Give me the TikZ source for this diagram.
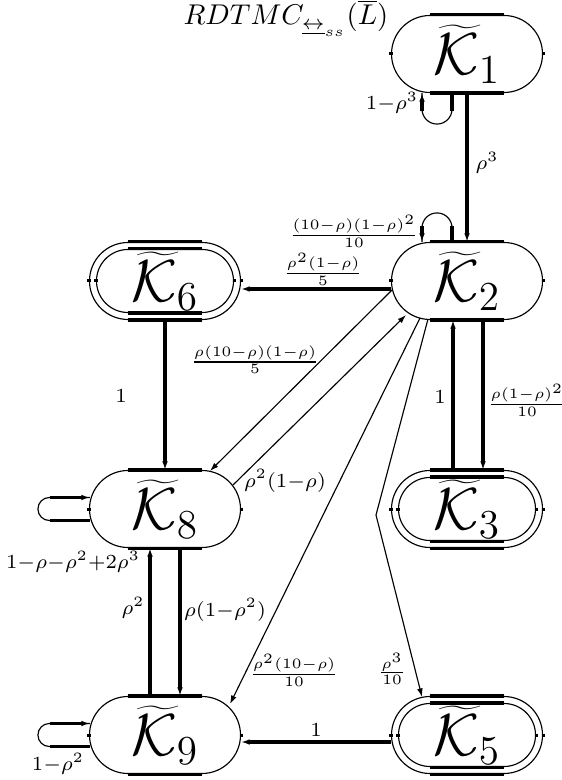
\documentclass[tikz,border=0pt]{standalone}
\usetikzlibrary{shapes.misc,arrows.meta,calc}
\newcommand\stdeco[1]{%
  \draw[thk] ($(#1.north)+(-37,0)$) -- ($(#1.north)+(37,0)$);
  \draw[thk] ($(#1.south)+(-37,0)$) -- ($(#1.south)+(37,0)$);
  \draw[thk] ($(#1.west)+(0,-1.5)$) -- ($(#1.west)+(0,1.5)$);
  \draw[thk] ($(#1.east)+(0,-1.5)$) -- ($(#1.east)+(0,1.5)$);}
\begin{document}
\begin{tikzpicture}[x=0.35pt,y=-0.35pt,
  thn/.style={line width=0.4pt},
  thk/.style={line width=1.1pt},
  tip/.style={-{Latex[length=3pt,width=2pt]}},
  st/.style={rounded rectangle, draw, line width=0.4pt, minimum width=52.85pt, minimum height=26.95pt, inner sep=0pt, font=\huge},
  sti/.style={rounded rectangle, draw, line width=0.4pt, minimum width=47.95pt, minimum height=22.05pt, inner sep=0pt},
  lab/.style={font=\scriptsize, inner sep=0pt}
]
\useasboundingbox (0,0) rectangle (561,780);

% caption
\node[inner sep=0pt, anchor=base west] (cap) at (183,25) {$RDTMC_{\underline{\leftrightarrow}_{ss}}(\overline{L})$};

% states
\node[st] (k1) at (467,54) {$\widetilde{\mathcal{K}}_1$};
\node[st] (k2) at (467,281) {$\widetilde{\mathcal{K}}_2$};
\node[st] (k6) at (165,281) {$\widetilde{\mathcal{K}}_6$};
\node[st] (k3) at (467,509) {$\widetilde{\mathcal{K}}_3$};
\node[st] (k8) at (165,509) {$\widetilde{\mathcal{K}}_8$};
\node[st] (k9) at (165,735) {$\widetilde{\mathcal{K}}_9$};
\node[st] (k5) at (467,735) {$\widetilde{\mathcal{K}}_5$};
\node[sti] (k6i) at (k6) {};
\node[sti] (k3i) at (k3) {};
\node[sti] (k5i) at (k5) {};
\stdeco{k1}\stdeco{k2}\stdeco{k6}\stdeco{k3}\stdeco{k8}\stdeco{k9}\stdeco{k5}
\stdeco{k6i}\stdeco{k3i}\stdeco{k5i}

% self loops
\draw[thn, rounded corners=5.25pt] ($(k1.south)+(-15,0)$) -- ++(0,31) -- ++(-30,0) -- ++(0,-31);
\draw[thk] ($(k1.south)+(-15,0)$) -- ++(0,18);
\draw[thk,tip] ($(k1.south)+(-45,18)$) -- ($(k1.south)+(-45,0)$);
\draw[thn, rounded corners=5.25pt] ($(k2.north)+(-15,0)$) -- ++(0,-29) -- ++(-30,0) -- ++(0,29);
\draw[thk] ($(k2.north)+(-15,0)$) -- ++(0,-16);
\draw[thk,tip] ($(k2.north)+(-45,-16)$) -- ($(k2.north)+(-45,0)$);
\draw[thn, rounded corners=4pt] ($(k8.west)+(1,11.5)$) -- ++(-52,0) -- ++(0,-23) -- ++(52,0);
\draw[thk] ($(k8.west)+(1,11.5)$) -- ++(-40,0);
\draw[thk,tip] ($(k8.west)+(-39,-11.5)$) -- ($(k8.west)+(1,-11.5)$);
\draw[thn, rounded corners=4pt] ($(k9.west)+(1,11.5)$) -- ++(-52,0) -- ++(0,-23) -- ++(52,0);
\draw[thk] ($(k9.west)+(1,11.5)$) -- ++(-40,0);
\draw[thk,tip] ($(k9.west)+(-39,-11.5)$) -- ($(k9.west)+(1,-11.5)$);

% thick connectors
\draw[thk,tip] (k1.south) -- (k2.north);
\draw[thk,tip] ($(k2.west)+(0,8)$) -- ($(k6.east)+(0,8)$);
\draw[thk,tip] (k6.south) -- (k8.north);
\draw[thk,tip] ($(k3.north)+(-14,0)$) -- ($(k2.south)+(-14,0)$);
\draw[thk,tip] ($(k2.south)+(16,0)$) -- ($(k3.north)+(16,0)$);
\draw[thk,tip] ($(k9.north)+(-15,0)$) -- ($(k8.south)+(-15,0)$);
\draw[thk,tip] ($(k8.south)+(15,0)$) -- ($(k9.north)+(15,0)$);
\draw[thk,tip] ($(k5.west)+(0,7)$) -- ($(k9.east)+(0,7)$);

% thin connectors
\coordinate (kink) at (376,515);
\draw[thn,tip] ($(k2.center)+(-75,9)$) -- ($(k8.center)+(45,-38)$);
\draw[thn,tip] ($(k8.center)+(68,-24)$) -- ($(k2.center)+(-61,34)$);
\draw[thn,tip] ($(k2.center)+(-47,37)$) -- ($(k9.center)+(65,-31)$);
\draw[thn,tip] ($(k2.center)+(-39,38)$) -- (kink) -- ($(k5.center)+(-45,-38)$);

% labels
\node[lab] (l1) at (392,103) {$1{-}\rho^3$};
\node[lab] (l2) at (487,163) {$\rho^3$};
\node[lab] (l3) at (354,231) {$\frac{(10-\rho)(1-\rho)^2}{10}$};
\node[lab] (l4) at (323,269) {$\frac{\rho^2(1-\rho)}{5}$};
\node[lab] (l5) at (121,396) {$1$};
\node[lab] (l6) at (255,360) {$\frac{\rho(10-\rho)(1-\rho)}{5}$};
\node[lab] (l7) at (285,481) {$\rho^2(1{-}\rho)$};
\node[lab] (l8) at (440,397) {$1$};
\node[lab] (l9) at (527,400) {$\frac{\rho(1-\rho)^2}{10}$};
\node[lab] (l10) at (73,562) {$1{-}\rho{-}\rho^2{+}2\rho^3$};
\node[lab] (l11) at (133,608) {$\rho^2$};
\node[lab] (l12) at (225,610) {$\rho(1{-}\rho^2)$};
\node[lab] (l13) at (294,670) {$\frac{\rho^2(10-\rho)}{10}$};
\node[lab] (l14) at (392,669) {$\frac{\rho^3}{10}$};
\node[lab] (l15) at (316,730) {$1$};
\node[lab] (l16) at (58,764) {$1{-}\rho^2$};
\end{tikzpicture}
\end{document}
